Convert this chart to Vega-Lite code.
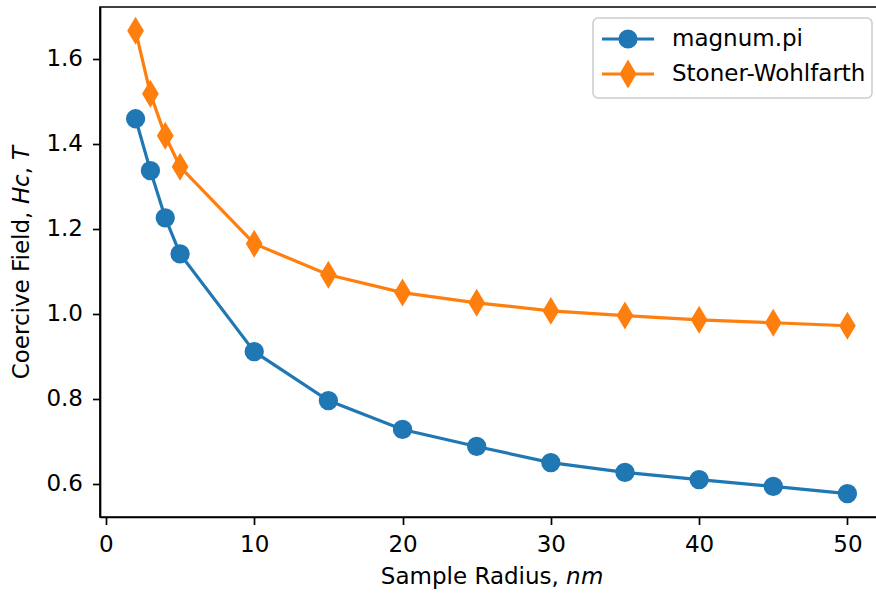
{
  "$schema": "https://vega.github.io/schema/vega-lite/v6.json",
  "width": 783,
  "height": 510,
  "autosize": {"type": "none"},
  "padding": {"left": 100, "top": 7, "right": 0, "bottom": 79},
  "background": "white",
  "config": {
    "font": "DejaVu Sans",
    "view": {"stroke": "black", "strokeWidth": 1.7},
    "axis": {
      "grid": false,
      "domainColor": "black",
      "domainWidth": 1.7,
      "tickColor": "black",
      "tickWidth": 1.7,
      "tickSize": 7.5,
      "labelFont": "DejaVu Sans",
      "labelFontSize": 23,
      "labelColor": "black",
      "titleFont": "DejaVu Sans",
      "titleFontSize": 23,
      "titleFontWeight": "normal",
      "titleColor": "black"
    }
  },
  "data": {
    "values": [
      {"r": 2, "hc": 1.459, "model": "magnum.pi"},
      {"r": 3, "hc": 1.337, "model": "magnum.pi"},
      {"r": 4, "hc": 1.226, "model": "magnum.pi"},
      {"r": 5, "hc": 1.141, "model": "magnum.pi"},
      {"r": 10, "hc": 0.911, "model": "magnum.pi"},
      {"r": 15, "hc": 0.796, "model": "magnum.pi"},
      {"r": 20, "hc": 0.728, "model": "magnum.pi"},
      {"r": 25, "hc": 0.688, "model": "magnum.pi"},
      {"r": 30, "hc": 0.650, "model": "magnum.pi"},
      {"r": 35, "hc": 0.627, "model": "magnum.pi"},
      {"r": 40, "hc": 0.610, "model": "magnum.pi"},
      {"r": 45, "hc": 0.594, "model": "magnum.pi"},
      {"r": 50, "hc": 0.577, "model": "magnum.pi"},
      {"r": 2, "hc": 1.666, "model": "Stoner-Wohlfarth"},
      {"r": 3, "hc": 1.518, "model": "Stoner-Wohlfarth"},
      {"r": 4, "hc": 1.419, "model": "Stoner-Wohlfarth"},
      {"r": 5, "hc": 1.346, "model": "Stoner-Wohlfarth"},
      {"r": 10, "hc": 1.165, "model": "Stoner-Wohlfarth"},
      {"r": 15, "hc": 1.092, "model": "Stoner-Wohlfarth"},
      {"r": 20, "hc": 1.050, "model": "Stoner-Wohlfarth"},
      {"r": 25, "hc": 1.026, "model": "Stoner-Wohlfarth"},
      {"r": 30, "hc": 1.007, "model": "Stoner-Wohlfarth"},
      {"r": 35, "hc": 0.996, "model": "Stoner-Wohlfarth"},
      {"r": 40, "hc": 0.986, "model": "Stoner-Wohlfarth"},
      {"r": 45, "hc": 0.979, "model": "Stoner-Wohlfarth"},
      {"r": 50, "hc": 0.972, "model": "Stoner-Wohlfarth"}
    ]
  },
  "encoding": {
    "x": {
      "field": "r",
      "type": "quantitative",
      "scale": {"domain": [-0.4, 52.4], "nice": false, "zero": false},
      "axis": {"values": [0, 10, 20, 30, 40, 50], "title": "Sample Radius, 𝘯𝘮", "labelPadding": 9, "titlePadding": 9}
    },
    "y": {
      "field": "hc",
      "type": "quantitative",
      "scale": {"domain": [0.522, 1.722], "nice": false, "zero": false},
      "axis": {"values": [0.6, 0.8, 1.0, 1.2, 1.4, 1.6], "format": ".1f", "title": "Coercive Field, 𝘏𝘤, 𝘛", "labelPadding": 10, "titlePadding": 12}
    },
    "color": {
      "field": "model",
      "type": "nominal",
      "scale": {"domain": ["magnum.pi", "Stoner-Wohlfarth"], "range": ["#1f77b4", "#ff7f0e"]},
      "legend": {
        "title": null,
        "orient": "top-right",
        "offset": 11,
        "padding": 6,
        "rowPadding": 2,
        "symbolOffset": 14,
        "labelOffset": 29,
        "labelLimit": 400,
        "labelFont": "DejaVu Sans",
        "labelFontSize": 23,
        "labelColor": "black",
        "symbolSize": 676,
        "symbolStrokeWidth": 3.1,
        "symbolOpacity": 1,
        "strokeColor": "#cccccc",
        "fillColor": "rgba(255,255,255,0.8)",
        "cornerRadius": 5,
        "encode": {
          "symbols": {
            "update": {
              "shape": {"signal": "datum.value === 'magnum.pi' ? 'M-2,0H2M-0.62,0A0.62,0.62 0 1,0 0.62,0A0.62,0.62 0 1,0 -0.62,0Z' : 'M-2,0H2M0,-0.88L0.52,0L0,0.88L-0.52,0Z'"},
              "fill": {"signal": "datum.value === 'magnum.pi' ? '#1f77b4' : '#ff7f0e'"},
              "stroke": {"signal": "datum.value === 'magnum.pi' ? '#1f77b4' : '#ff7f0e'"},
              "strokeWidth": {"value": 3.1},
              "opacity": {"value": 1},
              "fillOpacity": {"value": 1}
            }
          },
          "legend": {"update": {"strokeWidth": {"value": 1.5}}}
        }
      }
    }
  },
  "layer": [
    {
      "mark": {"type": "line", "strokeWidth": 3.2}
    },
    {
      "transform": [{"filter": "datum.model === 'magnum.pi'"}],
      "mark": {"type": "point", "shape": "circle", "size": 300, "filled": true, "opacity": 1, "strokeWidth": 2, "stroke": "#1f77b4"}
    },
    {
      "transform": [{"filter": "datum.model === 'Stoner-Wohlfarth'"}],
      "mark": {"type": "point", "shape": "M0,-1L0.6,0L0,1L-0.6,0Z", "size": 580, "filled": true, "opacity": 1, "strokeWidth": 2, "stroke": "#ff7f0e"}
    }
  ]
}
